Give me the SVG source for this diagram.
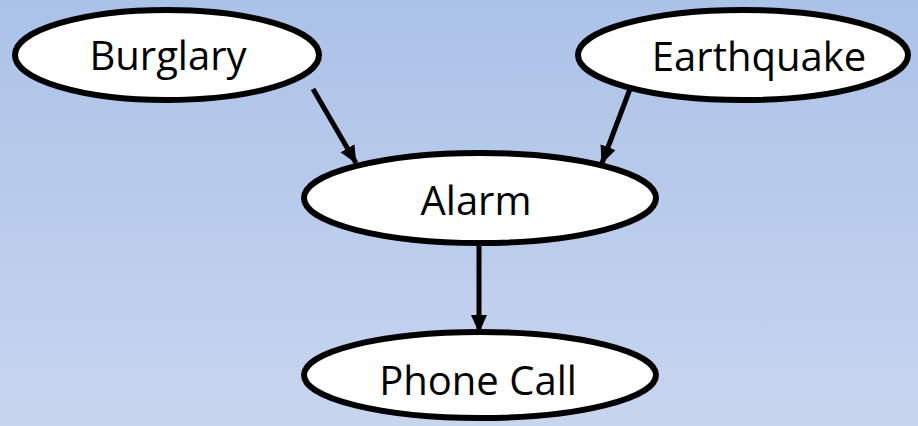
<svg xmlns="http://www.w3.org/2000/svg" width="918" height="426" viewBox="0 0 918 426">
<defs>
<linearGradient id="bg" x1="0" y1="0" x2="0" y2="1">
<stop offset="0" stop-color="#abc2e8"/>
<stop offset="1" stop-color="#c8d5ef"/>
</linearGradient>
<marker id="arr" markerWidth="18" markerHeight="18" refX="17" refY="9" orient="auto" markerUnits="userSpaceOnUse">
<path d="M0,1 L18,9 L0,17 Z" fill="#000"/>
</marker>
<style>
.node ellipse{fill:#fff;stroke:#000;stroke-width:6}
.node text{font-family:"Open Sans","Liberation Sans",sans-serif;font-size:40px;fill:#000;text-anchor:middle}
#edges line{stroke:#000;stroke-width:5;marker-end:url(#arr)}
</style>
</defs>
<rect width="918" height="426" fill="url(#bg)"/>
<g id="edges">
<line x1="313" y1="89" x2="356" y2="163"/>
<line x1="630" y1="89" x2="602" y2="163"/>
<line x1="479" y1="244" x2="479" y2="332"/>
</g>
<g id="burglary" class="node">
<ellipse cx="167" cy="55" rx="152" ry="45"/>
<text x="168" y="70">Burglary</text>
</g>
<g id="earthquake" class="node">
<ellipse cx="743" cy="55" rx="165" ry="45"/>
<text x="759" y="71">Earthquake</text>
</g>
<g id="alarm" class="node">
<ellipse cx="480" cy="198" rx="176" ry="45"/>
<text x="476" y="215">Alarm</text>
</g>
<g id="phonecall" class="node">
<ellipse cx="480" cy="375" rx="176" ry="43"/>
<text x="478" y="395">Phone Call</text>
</g>
</svg>
